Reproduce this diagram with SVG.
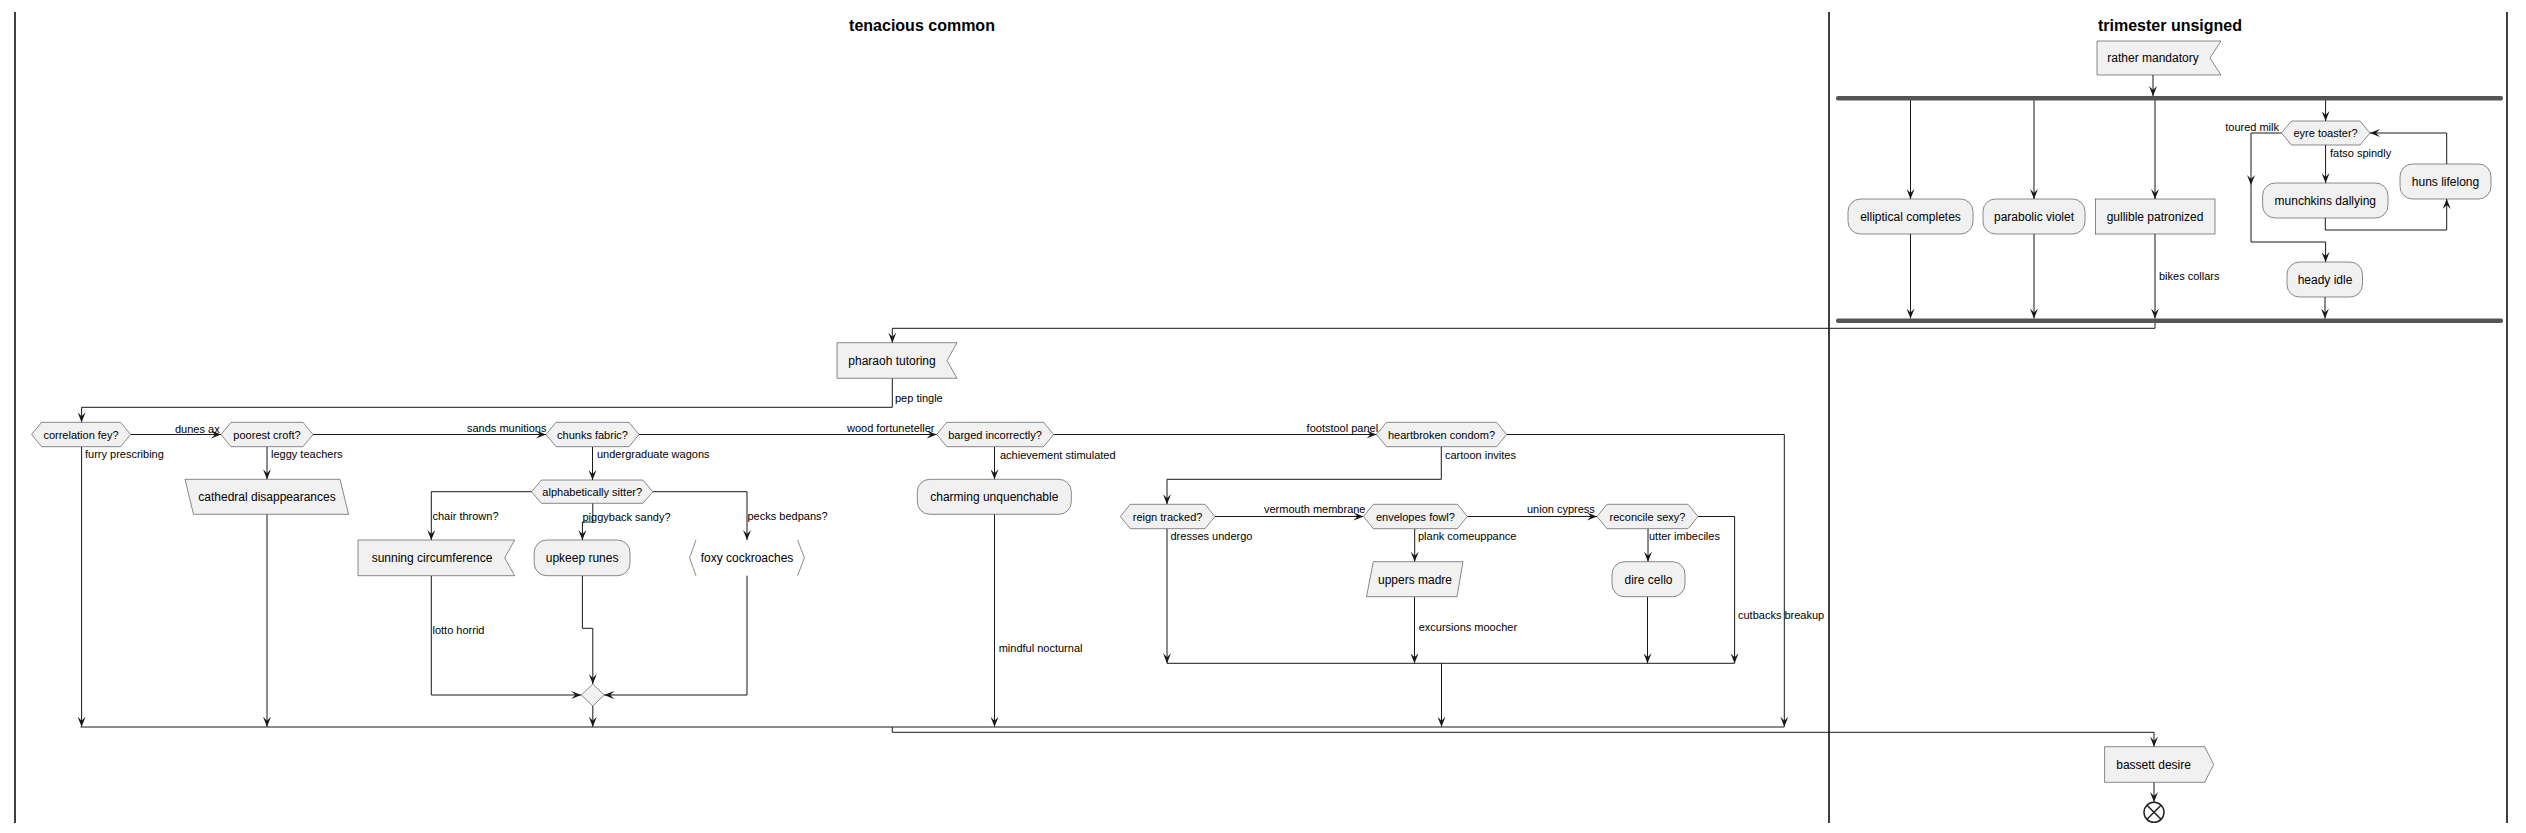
<svg xmlns="http://www.w3.org/2000/svg" width="2526" height="833" viewBox="0 0 2526 833">
<style>
.n{fill:#F1F1F1;stroke:#181818;stroke-width:0.5}
.t{font-family:"Liberation Sans",Arial,sans-serif;font-size:12px;fill:#000;text-anchor:middle}
.l{font-family:"Liberation Sans",Arial,sans-serif;font-size:11px;fill:#000}
.h{font-family:"Liberation Sans",Arial,sans-serif;font-size:16px;font-weight:bold;fill:#000;text-anchor:middle}
.c{fill:none;stroke:#181818;stroke-width:1}
.a{marker-end:url(#ah)}
.lane{stroke:#000;stroke-width:1.5}
.bar{fill:#555555}
</style>
<defs>
<marker id="ah" viewBox="0 0 10 8" refX="10" refY="4" markerWidth="10" markerHeight="8" orient="auto" markerUnits="userSpaceOnUse">
<path d="M0,0 L10,4 L0,8 L4,4 Z" fill="#181818"/>
</marker>
</defs>
<rect width="2526" height="833" fill="#fff"/>
<g id="lanes">
<line class="lane" x1="15" y1="12" x2="15" y2="823"/>
<line class="lane" x1="1829" y1="12" x2="1829" y2="823"/>
<line class="lane" x1="2507" y1="12" x2="2507" y2="823"/>
<text class="h" x="922" y="31">tenacious common</text>
<text class="h" x="2170" y="31">trimester unsigned</text>
</g>
<g id="connectors">
<path class="c a" d="M2153,75 V96"/>
<path class="c a" d="M1910.5,100 V199"/>
<path class="c a" d="M2034,100 V199"/>
<path class="c a" d="M2155,100 V199"/>
<path class="c a" d="M2325.6,100 V121"/>
<path class="c a" d="M1910.5,234 V318.5"/>
<path class="c a" d="M2034,234 V318.5"/>
<path class="c a" d="M2155,234 V318.5"/>
<text class="l" x="2159" y="280">bikes collars</text>
<path class="c a" d="M2325,297 V318.5"/>
<path class="c a" d="M2281.5,133 H2251 V242 H2325.6 V262"/>
<path d="M2247,175 L2251,185 L2255,175 L2251,179 Z" fill="#181818"/>
<text class="l" x="2279" y="131" text-anchor="end">toured milk</text>
<path class="c a" d="M2325.6,145 V183"/>
<text class="l" x="2330" y="157">fatso spindly</text>
<path class="c a" d="M2325.3,218 V230 H2446.7 V199"/>
<path class="c a" d="M2446.7,164 V133 H2370"/>
<path class="c a" d="M2155,322.5 V328.3 H892.3 V342.7"/>
<path class="c a" d="M892.3,378.3 V407.3 H81.6 V422.3"/>
<text class="l" x="895" y="401.5">pep tingle</text>
<path class="c a" d="M130.6,434.5 H221"/>
<text class="l" x="175" y="433">dunes ax</text>
<path class="c a" d="M313,434.5 H546"/>
<text class="l" x="467" y="432">sands munitions</text>
<path class="c a" d="M639,434.5 H936.7"/>
<text class="l" x="847" y="432">wood fortuneteller</text>
<path class="c a" d="M1053.6,434.5 H1376.5"/>
<text class="l" x="1306.6" y="432">footstool panel</text>
<path class="c a" d="M1506.6,434.5 H1784.3 V726.7"/>
<path class="c a" d="M1441.3,446.7 V479.3 H1167 V504.3"/>
<text class="l" x="1445" y="459">cartoon invites</text>
<path class="c a" d="M81.6,446.7 V726.7"/>
<text class="l" x="85" y="458">furry prescribing</text>
<path class="c a" d="M267,446.7 V479.3"/>
<text class="l" x="271" y="458">leggy teachers</text>
<path class="c a" d="M267,514.3 V726.7"/>
<path class="c a" d="M592.5,446.7 V480"/>
<text class="l" x="597" y="458">undergraduate wagons</text>
<path class="c a" d="M531.5,491.7 H431.3 V540"/>
<text class="l" x="432.5" y="520">chair thrown?</text>
<path class="c a" d="M592.8,503.3 V522 H582.4 V540"/>
<text class="l" x="582.5" y="521">piggyback sandy?</text>
<path class="c a" d="M652.9,491.7 H747 V540"/>
<text class="l" x="747.5" y="520">pecks bedpans?</text>
<path class="c a" d="M431.3,575.7 V695 H581.3"/>
<text class="l" x="432.5" y="634">lotto horrid</text>
<path class="c a" d="M582.4,575.7 V628.3 H592.8 V684"/>
<path class="c a" d="M747,575.7 V695 H604.2"/>
<path class="c a" d="M592.8,706 V726.7"/>
<path class="c a" d="M994.5,446.7 V479.3"/>
<text class="l" x="1000" y="459">achievement stimulated</text>
<path class="c a" d="M994.5,514.3 V726.7"/>
<text class="l" x="998.7" y="652">mindful nocturnal</text>
<path class="c a" d="M1215,516.5 H1363.4"/>
<text class="l" x="1264" y="513">vermouth membrane</text>
<path class="c a" d="M1167,528.7 V663.3"/>
<text class="l" x="1170.5" y="540">dresses undergo</text>
<path class="c a" d="M1467.4,516.5 H1597"/>
<text class="l" x="1527" y="513">union cypress</text>
<path class="c a" d="M1414.7,528.7 V561.7"/>
<text class="l" x="1418" y="540">plank comeuppance</text>
<path class="c a" d="M1414.5,596.7 V663.3"/>
<text class="l" x="1418.7" y="630.5">excursions moocher</text>
<path class="c a" d="M1648,528.7 V561.7"/>
<text class="l" x="1649" y="540">utter imbeciles</text>
<path class="c a" d="M1647.5,596.7 V663.3"/>
<path class="c a" d="M1698,516.5 H1734.6 V663.3"/>
<text class="l" x="1738" y="619">cutbacks breakup</text>
<path class="c" d="M1167,663.3 H1734.6"/>
<path class="c a" d="M1441.5,663.3 V726.7"/>
<path class="c" d="M80.5,727 H1784.3"/>
<path class="c a" d="M892.3,727 V732.3 H2154 V746.7"/>
<path class="c a" d="M2154,782.3 V802"/>
</g>
<g id="n-rather"><path class="n" d="M2097,41 H2221 L2210,58 L2221,75 H2097 Z"/><text class="t" x="2153" y="62">rather mandatory</text></g>
<g id="n-fork"><rect class="bar" x="1836" y="96" width="667" height="4.5" rx="2"/></g>
<g id="n-elliptical"><rect class="n" x="1848" y="199" width="125" height="35" rx="12.5"/><text class="t" x="1910.5" y="221">elliptical completes</text></g>
<g id="n-parabolic"><rect class="n" x="1983" y="199" width="102" height="35" rx="12.5"/><text class="t" x="2034" y="221">parabolic violet</text></g>
<g id="n-gullible"><rect class="n" x="2095.5" y="199" width="119.5" height="35"/><text class="t" x="2155" y="221">gullible patronized</text></g>
<g id="n-eyre"><path class="n" d="M2281.5,133 L2291.5,121 H2360 L2370,133 L2360,145 H2291.5 Z"/><text class="l" x="2325.6" y="137" text-anchor="middle">eyre toaster?</text></g>
<g id="n-munchkins"><rect class="n" x="2262.6" y="183" width="125.4" height="35" rx="12.5"/><text class="t" x="2325.3" y="205">munchkins dallying</text></g>
<g id="n-huns"><rect class="n" x="2400" y="164" width="91" height="35" rx="12.5"/><text class="t" x="2445.5" y="186">huns lifelong</text></g>
<g id="n-heady"><rect class="n" x="2287" y="262" width="75.5" height="35" rx="12.5"/><text class="t" x="2325" y="284">heady idle</text></g>
<g id="n-join"><rect class="bar" x="1836" y="318.5" width="667" height="4.5" rx="2"/></g>
<g id="n-pharaoh"><path class="n" d="M837,342.7 H957 L947,360.5 L957,378.3 H837 Z"/><text class="t" x="892" y="364.5">pharaoh tutoring</text></g>
<g id="n-correlation"><path class="n" d="M31.6,434.5 L41.6,422.3 H120.6 L130.6,434.5 L120.6,446.7 H41.6 Z"/><text class="l" x="81" y="438.5" text-anchor="middle">correlation fey?</text></g>
<g id="n-poorest"><path class="n" d="M221,434.5 L231,422.3 H303 L313,434.5 L303,446.7 H231 Z"/><text class="l" x="267" y="438.5" text-anchor="middle">poorest croft?</text></g>
<g id="n-cathedral"><path class="n" d="M185,479.3 H340 L348.6,514.3 H193.5 Z"/><text class="t" x="267" y="501">cathedral disappearances</text></g>
<g id="n-chunks"><path class="n" d="M546,434.5 L556,422.3 H629 L639,434.5 L629,446.7 H556 Z"/><text class="l" x="592.5" y="438.5" text-anchor="middle">chunks fabric?</text></g>
<g id="n-alpha"><path class="n" d="M531.5,491.7 L541.5,480 H642.9 L652.9,491.7 L642.9,503.3 H541.5 Z"/><text class="l" x="592.2" y="495.5" text-anchor="middle">alphabetically sitter?</text></g>
<g id="n-sunning"><path class="n" d="M358,540 H514.7 L504.7,557.8 L514.7,575.7 H358 Z"/><text class="t" x="432" y="562">sunning circumference</text></g>
<g id="n-upkeep"><rect class="n" x="534.2" y="540" width="95.8" height="35.7" rx="12.5"/><text class="t" x="582.1" y="562">upkeep runes</text></g>
<g id="n-foxy"><path d="M696,540 L689.6,557.8 L696,575.7 M797.6,540 L804.4,557.8 L797.6,575.7" fill="none" stroke="#181818" stroke-width="0.5"/><text class="t" x="747" y="562">foxy cockroaches</text></g>
<g id="n-merge1"><path class="n" d="M592.8,684 L604.2,695 L592.8,706 L581.3,695 Z"/></g>
<g id="n-barged"><path class="n" d="M936.7,434.5 L946.7,422.3 H1043.6 L1053.6,434.5 L1043.6,446.7 H946.7 Z"/><text class="l" x="995" y="438.5" text-anchor="middle">barged incorrectly?</text></g>
<g id="n-charming"><rect class="n" x="917.3" y="479.3" width="154" height="35" rx="12.5"/><text class="t" x="994.3" y="501">charming unquenchable</text></g>
<g id="n-heartbroken"><path class="n" d="M1376.5,434.5 L1386.5,422.3 H1496.6 L1506.6,434.5 L1496.6,446.7 H1386.5 Z"/><text class="l" x="1441.5" y="438.5" text-anchor="middle">heartbroken condom?</text></g>
<g id="n-reign"><path class="n" d="M1120.3,516.5 L1130.3,504.3 H1205 L1215,516.5 L1205,528.7 H1130.3 Z"/><text class="l" x="1167.6" y="520.5" text-anchor="middle">reign tracked?</text></g>
<g id="n-envelopes"><path class="n" d="M1363.4,516.5 L1373.4,504.3 H1457.4 L1467.4,516.5 L1457.4,528.7 H1373.4 Z"/><text class="l" x="1415.4" y="520.5" text-anchor="middle">envelopes fowl?</text></g>
<g id="n-uppers"><path class="n" d="M1373.3,561.7 H1463 L1457,596.7 H1366.5 Z"/><text class="t" x="1415" y="583.5">uppers madre</text></g>
<g id="n-reconcile"><path class="n" d="M1597,516.5 L1607,504.3 H1688 L1698,516.5 L1688,528.7 H1607 Z"/><text class="l" x="1647.5" y="520.5" text-anchor="middle">reconcile sexy?</text></g>
<g id="n-dire"><rect class="n" x="1612" y="561.7" width="73" height="35" rx="12.5"/><text class="t" x="1648.5" y="583.5">dire cello</text></g>
<g id="n-bassett"><path class="n" d="M2104.6,746.7 H2204.7 L2213.7,764.5 L2204.7,782.3 H2104.6 Z"/><text class="t" x="2153.6" y="768.5">bassett desire</text></g>
<g id="n-end"><circle cx="2154" cy="812.3" r="10" fill="#fff" stroke="#222" stroke-width="1.5"/><path d="M2147,805.3 L2161,819.3 M2161,805.3 L2147,819.3" stroke="#222" stroke-width="1.5"/></g>
</svg>
